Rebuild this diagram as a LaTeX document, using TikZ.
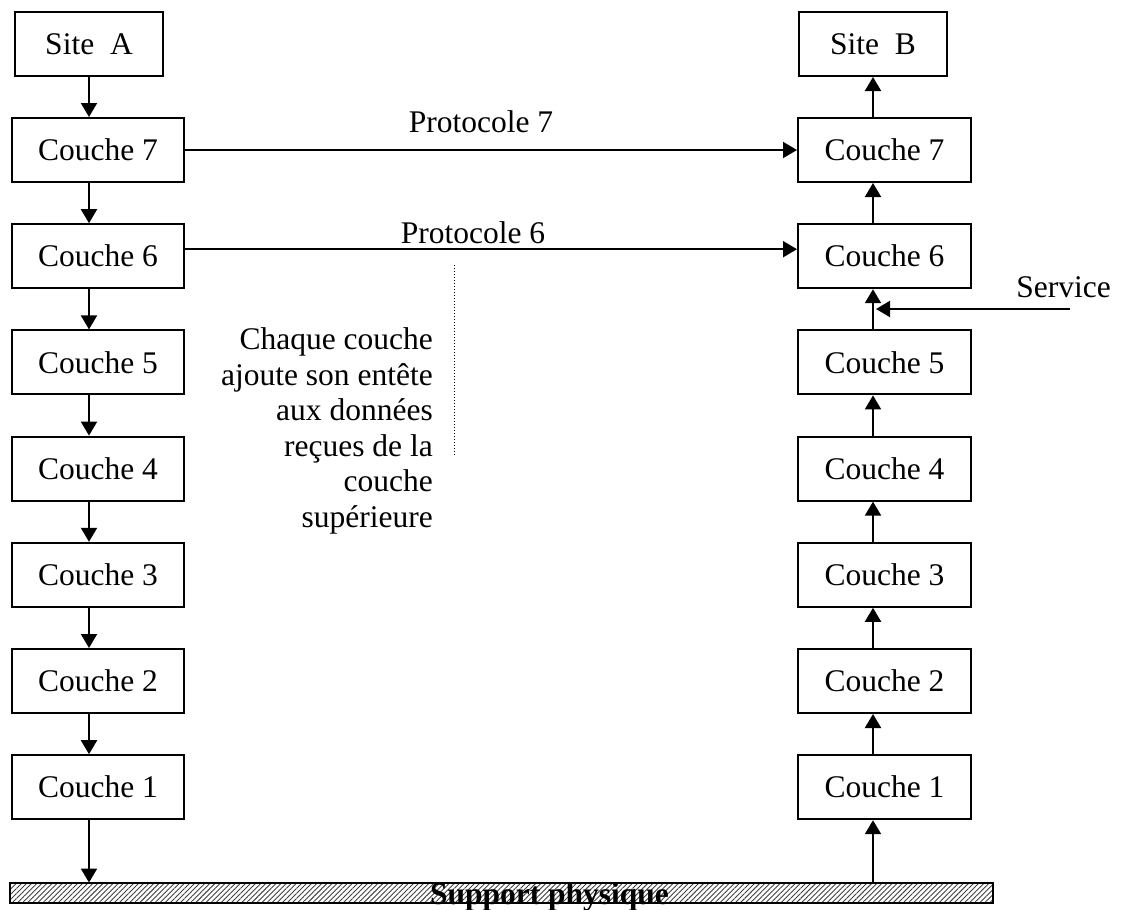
\documentclass[tikz,border=0pt]{standalone}
\usepackage{fontspec}
\setmainfont{Liberation Serif}
\usetikzlibrary{arrows.meta,patterns.meta}
\begin{document}
\begin{tikzpicture}[x=1pt,y=-1pt,
  font=\fontsize{31.5}{35.6}\selectfont,
  layer/.style={draw,line width=2pt,inner sep=0pt,minimum width=172pt,minimum height=64pt},
  sitebox/.style={layer,minimum width=148pt},
  arr/.style={line width=2pt,-{Triangle[length=14pt,width=16pt]}},
  lbl/.style={inner sep=0pt,anchor=base}]
\useasboundingbox (0,0) rectangle (1122,910);

% end systems
\node[sitebox] (sA) at (89,44) {Site\ \ A};
\node[sitebox] (sB) at (873,44) {Site\ \ B};

% the seven layers on each side
\foreach \k in {7,...,1}{
  \node[layer] (L\k) at (98,{150+(7-\k)*106.2}) {Couche \k};
  \node[layer,minimum width=173pt] (R\k) at (884.5,{150+(7-\k)*106.2}) {Couche \k};
}

% physical medium
\node[draw,line width=2pt,inner sep=0pt,minimum width=983pt,minimum height=20pt,
  pattern={Lines[angle=45,distance=3.6pt,line width=0.9pt]},pattern color=black!75]
  (bar) at (501.5,893) {};
\node[lbl,font=\fontsize{31.5}{35.6}\selectfont\bfseries] (sup) at (549.5,904) {Support physique};

% downward path on the sending side
\draw[arr] (sA.south) -- (sA.south |- L7.north);
\foreach \a/\b in {7/6,6/5,5/4,4/3,3/2,2/1}{
  \draw[arr] (L\a.south -| sA) -- (L\b.north -| sA);
}
\draw[arr] (L1.south -| sA) -- (bar.north -| sA);

% upward path on the receiving side
\draw[arr] (bar.north -| sB) -- (R1.south -| sB);
\foreach \a/\b in {1/2,2/3,3/4,4/5,5/6,6/7}{
  \draw[arr] (R\a.north -| sB) -- (R\b.south -| sB);
}
\draw[arr] (R7.north -| sB) -- (sB.south);

% peer protocols
\draw[arr] (L7.east) -- (R7.west);
\node[lbl] (p7) at (481,132) {Protocole 7};
\draw[arr] ([yshift=7pt]L6.east) -- ([yshift=7pt]L6.east -| R6.west);
\node[lbl] (p6) at (473,243) {Protocole 6};

% service offered between layers 5 and 6
\coordinate (svcstart) at (1070,309);
\coordinate (svcend) at (876,309);
\draw[arr] (svcstart) -- (svcend);
\node[lbl] (svc) at (1063.5,297) {Service};

% encapsulation note
\coordinate (dtop) at (454,265);
\coordinate (dbot) at (454,455);
\draw[line width=1pt,dotted] (dtop) -- (dbot);
\node[inner sep=0pt,anchor=north east,align=right] (note) at (433,327.5)
  {Chaque couche\\ajoute son entête\\aux données\\reçues de la\\couche\\supérieure};
\end{tikzpicture}
\end{document}
